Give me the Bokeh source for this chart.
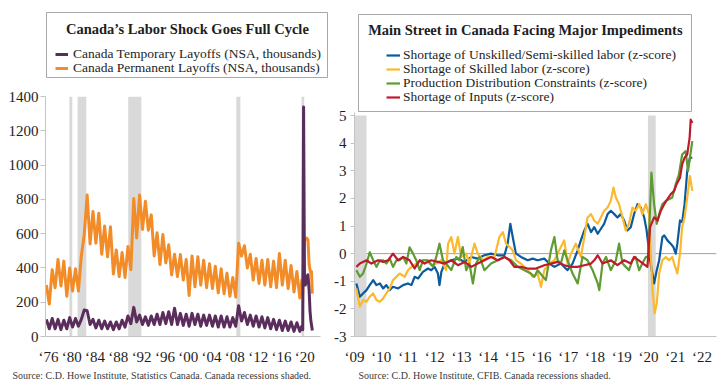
from bokeh.plotting import figure
from bokeh.models import Range1d, FixedTicker, Label, BoxAnnotation, Legend, LegendItem, Span, Title
from bokeh.layouts import row
from bokeh.embed import file_html
from bokeh.resources import INLINE

SERIF = "Liberation Serif"

# ---------------- Left chart data (NSA, thousands) ----------------
layoff_years = list(range(1976, 2020))
# seasonal winter peak / summer trough read per year
perm_peak = [300, 390, 450, 440, 400, 395, 470, 826, 730, 720, 645, 640, 505, 490, 525,
             805, 826, 790, 710, 605, 595, 535, 480, 478, 450, 470, 465, 445, 425, 410,
             395, 370, 345, 545, 530, 480, 455, 445, 450, 440, 485, 445, 415, 380]
perm_trough = [190, 285, 295, 235, 265, 265, 595, 540, 545, 480, 465, 365, 350, 345, 390,
               575, 625, 620, 470, 420, 430, 360, 350, 330, 240, 290, 300, 285, 280, 255,
               250, 235, 230, 470, 400, 330, 310, 300, 290, 285, 300, 280, 260, 225]
temp_peak = [100, 105, 100, 95, 110, 105, 100, 150, 100, 95, 90, 85, 85, 95, 120,
             170, 125, 115, 120, 130, 140, 145, 165, 135, 130, 135, 130, 125, 125, 120,
             120, 115, 110, 180, 140, 125, 120, 115, 110, 100, 95, 90, 85, 80]
temp_trough = [45, 45, 40, 45, 55, 60, 155, 70, 50, 45, 45, 40, 45, 55, 75,
               85, 70, 65, 70, 70, 75, 70, 70, 65, 60, 70, 60, 65, 60, 55,
               55, 55, 60, 90, 70, 60, 55, 50, 45, 40, 35, 35, 30, 30]
peak_offset, trough_offset = 0.15, 0.65
# pandemic period, read point by point
tail_t = [2020.0, 2020.15, 2020.3, 2020.45, 2020.6, 2020.8, 2021.05, 2021.25, 2021.4, 2021.55, 2021.65, 2021.8]
perm_tail = [330, 250, 450, 560, 565, 575, 565, 420, 390, 370, 380, 250]
temp_tail = [60, 40, 1340, 360, 300, 345, 360, 270, 150, 90, 70, 35]

left_recession_start = [1980.1, 1981.5, 1990.2, 2008.75, 2019.95]
left_recession_end = [1980.6, 1983.0, 1992.45, 2009.45, 2020.4]
left_x_ticks = [1976, 1980, 1984, 1988, 1992, 1996, 2000, 2004, 2008, 2012, 2016, 2020]
left_x_labels = ["\u201876", "\u201880", "\u201884", "\u201888", "\u201892", "\u201896",
                 "\u201800", "\u201804", "\u201808", "\u201812", "\u201816", "\u201820"]
left_y_ticks = [0, 200, 400, 600, 800, 1000, 1200, 1400]
left_y_labels = ["0", "200", "400", "600", "800", "1000", "1200", "1400"]

# ---------------- Right chart data (z-scores) ----------------
inputs_t = [2009.07, 2009.20, 2009.45, 2009.63, 2009.88, 2010.07, 2010.26, 2010.44, 2010.63, 2010.82,
            2011.06, 2011.25, 2011.44, 2011.62, 2011.87, 2012.12, 2012.37, 2012.62, 2012.87, 2013.12,
            2013.37, 2013.61, 2013.86, 2014.11, 2014.36, 2014.61, 2014.80, 2014.98, 2015.23, 2015.48,
            2015.79, 2016.10, 2016.35, 2016.60, 2016.85, 2017.10, 2017.35, 2017.60, 2017.85, 2017.97,
            2018.10, 2018.28, 2018.59, 2018.84, 2019.09, 2019.34, 2019.46, 2019.71, 2019.96, 2020.06,
            2020.21, 2020.34, 2020.46, 2020.59, 2020.71, 2020.83, 2020.96, 2021.05, 2021.18, 2021.26,
            2021.35, 2021.45, 2021.54, 2021.58, 2021.64]
inputs_v = [-0.48, -0.36, -0.24, -0.36, -0.24, -0.30, -0.24, 0.00, -0.24, -0.12,
            -0.24, -0.54, -0.24, -0.36, -0.24, -0.30, -0.36, -0.24, -0.42, -0.30,
            -0.48, -0.36, -0.24, -0.12, -0.24, -0.12, -0.24, -0.48, -0.48, -0.54,
            -0.54, -0.42, -0.36, -0.30, -0.42, -0.48, -0.48, -0.42, -0.36, -0.24,
            -0.06, -0.36, -0.24, -0.42, -0.24, -0.36, -0.12, -0.30, -0.48, 0.96,
            1.31, 1.20, 1.55, 1.79, 1.97, 2.15, 2.27, 2.51, 2.75, 3.23,
            3.47, 3.59, 4.20, 4.85, 4.73]

unskilled_t = [2009.07, 2009.20, 2009.32, 2009.45, 2009.57, 2009.70, 2009.82, 2009.95, 2010.07, 2010.19,
               2010.32, 2010.44, 2010.63, 2010.82, 2011.00, 2011.13, 2011.25, 2011.38, 2011.56, 2011.75,
               2011.87, 2012.00, 2012.12, 2012.18, 2012.25, 2012.37, 2012.62, 2012.87, 2013.12, 2013.37,
               2013.61, 2013.86, 2014.11, 2014.36, 2014.61, 2014.73, 2014.83, 2014.92, 2015.04, 2015.23,
               2015.48, 2015.67, 2015.85, 2016.10, 2016.29, 2016.48, 2016.72, 2016.97, 2017.16, 2017.35,
               2017.47, 2017.60, 2017.72, 2017.85, 2017.97, 2018.10, 2018.22, 2018.34, 2018.47, 2018.59,
               2018.72, 2018.84, 2018.96, 2019.09, 2019.21, 2019.34, 2019.46, 2019.59, 2019.71, 2019.84,
               2019.93, 2020.06, 2020.21, 2020.31, 2020.40, 2020.52, 2020.59, 2020.71, 2020.83, 2020.93,
               2021.02, 2021.08, 2021.18, 2021.26, 2021.35, 2021.45, 2021.55, 2021.64]
unskilled_v = [-1.08, -1.56, -1.44, -1.32, -1.14, -0.96, -1.14, -1.08, -1.26, -1.14,
               -1.32, -1.20, -1.26, -1.14, -1.08, -1.14, -0.84, -0.90, -0.66, -0.54,
               -0.60, -0.48, -0.72, -1.14, -0.66, -0.36, -0.24, -0.18, -0.30, -0.12,
               -0.18, -0.06, 0.00, -0.06, -0.06, 0.36, 1.08, 0.60, 0.00, -0.12,
               -0.24, -0.18, -0.24, -0.18, -0.36, -0.48, -0.36, -0.60, -0.36, 0.12,
               0.48, 0.84, 1.08, 0.78, 0.96, 0.72, 0.90, 1.08, 1.43, 1.55,
               1.43, 1.31, 1.43, 1.20, 0.84, 0.96, 1.43, 1.79, 1.67, 1.31,
               0.84, -0.24, -1.08, -0.60, -0.24, 0.60, 0.66, 0.48, 0.36, 0.24,
               0.00, 0.36, 1.20, 1.14, 1.79, 2.99, 3.47, 3.47]

skilled_t = [2009.07, 2009.20, 2009.32, 2009.45, 2009.57, 2009.70, 2009.82, 2009.95, 2010.07, 2010.19,
             2010.32, 2010.44, 2010.57, 2010.69, 2010.88, 2011.00, 2011.13, 2011.31, 2011.50, 2011.69,
             2011.87, 2012.06, 2012.25, 2012.43, 2012.50, 2012.62, 2012.74, 2012.87, 2012.99, 2013.18,
             2013.30, 2013.49, 2013.61, 2013.80, 2013.99, 2014.24, 2014.42, 2014.55, 2014.67, 2014.80,
             2014.92, 2015.04, 2015.23, 2015.48, 2015.67, 2015.85, 2015.98, 2016.10, 2016.29, 2016.48,
             2016.66, 2016.85, 2016.97, 2017.10, 2017.28, 2017.47, 2017.60, 2017.72, 2017.85, 2017.97,
             2018.10, 2018.22, 2018.34, 2018.47, 2018.59, 2018.69, 2018.78, 2018.90, 2019.03, 2019.15,
             2019.27, 2019.40, 2019.52, 2019.65, 2019.77, 2019.90, 2020.02, 2020.15, 2020.23, 2020.31,
             2020.40, 2020.52, 2020.65, 2020.77, 2020.89, 2020.96, 2021.08, 2021.18, 2021.26, 2021.35,
             2021.45, 2021.55, 2021.64]
skilled_v = [-1.26, -1.92, -1.68, -1.74, -1.56, -1.44, -1.68, -1.74, -1.62, -1.44,
             -1.26, -0.96, -0.84, -0.72, -0.84, -0.60, -0.48, -0.36, -0.24, -0.24,
             -0.42, -0.36, -0.24, -0.60, 0.36, 0.60, 0.00, 0.60, -0.12, 0.00,
             -0.36, 0.36, 0.00, -0.24, -0.12, -0.12, 0.60, 0.78, 0.36, 0.24,
             0.12, -0.24, -0.36, -0.60, -0.84, -0.72, -1.20, -0.60, -0.36, -0.24,
             0.12, 0.48, -0.36, 0.00, 0.36, -0.12, 0.60, 1.31, 1.43, 1.20,
             1.08, 1.31, 1.55, 1.67, 1.91, 2.39, 2.03, 1.79, 1.31, 0.84,
             1.08, 1.67, 1.55, 1.79, 1.43, 1.79, 1.43, -1.32, -2.16, -1.80,
             -0.72, -0.24, -0.12, -0.24, -0.12, -0.36, -0.72, 0.00, 0.96, 1.31,
             2.03, 2.81, 2.27]

distrib_t = [2009.07, 2009.20, 2009.32, 2009.45, 2009.57, 2009.70, 2009.82, 2009.95, 2010.07, 2010.19,
             2010.32, 2010.44, 2010.57, 2010.69, 2010.82, 2010.94, 2011.06, 2011.19, 2011.31, 2011.44,
             2011.56, 2011.75, 2011.94, 2012.06, 2012.18, 2012.31, 2012.43, 2012.62, 2012.81, 2012.93,
             2013.05, 2013.18, 2013.30, 2013.43, 2013.55, 2013.68, 2013.86, 2014.11, 2014.36, 2014.61,
             2014.86, 2015.11, 2015.36, 2015.60, 2015.73, 2015.85, 2016.16, 2016.35, 2016.48, 2016.60,
             2016.72, 2016.85, 2016.97, 2017.16, 2017.35, 2017.53, 2017.72, 2017.91, 2018.10, 2018.16,
             2018.28, 2018.41, 2018.59, 2018.78, 2018.90, 2019.03, 2019.15, 2019.27, 2019.40, 2019.52,
             2019.65, 2019.77, 2019.90, 2019.99, 2020.11, 2020.21, 2020.31, 2020.40, 2020.52, 2020.65,
             2020.77, 2020.89, 2021.02, 2021.14, 2021.26, 2021.39, 2021.48, 2021.55, 2021.64]
distrib_v = [-0.60, -0.84, -0.72, -0.36, 0.05, -0.24, -0.48, -0.24, -0.24, -0.36,
             -0.18, -0.48, -0.24, -0.24, -0.12, -0.36, 0.23, 0.00, -0.24, -0.60,
             -0.24, -0.24, -0.48, -0.12, 0.36, -0.24, -0.36, -0.60, -0.12, -0.24,
             0.24, -0.60, -0.36, -1.08, -0.36, -0.12, -0.60, -0.36, -0.24, -0.12,
             -0.24, -0.48, -0.60, -0.72, -0.84, -0.60, -0.96, 0.12, 0.60, -0.24,
             -0.36, 0.12, -0.24, -0.72, -1.08, -0.12, -0.24, -0.60, -1.08, -1.32,
             -0.36, -0.12, -0.60, -0.24, 0.36, -0.36, -0.48, -0.60, -0.24, -0.12,
             -0.60, -0.36, -0.12, -0.12, 2.93, 1.79, 1.08, 1.43, 1.79, 1.91,
             1.97, 2.03, 2.51, 2.87, 3.59, 3.71, 2.99, 3.47, 4.07]

right_recession_start = [2009.0, 2019.98]
right_recession_end = [2009.45, 2020.27]
right_x_ticks = list(range(2009, 2023))
right_x_labels = ["\u201809", "\u201810", "\u201811", "\u201812", "\u201813", "\u201814", "\u201815",
                  "\u201816", "\u201817", "\u201818", "\u201819", "\u201820", "\u201821", "\u201822"]
right_y_ticks = [-3, -2, -1, 0, 1, 2, 3, 4, 5]
right_y_labels = ["-3", "-2", "-1", "0", "1", "2", "3", "4", "5"]

# ---------------- styling ----------------
ORANGE = "#F28C28"
PURPLE = "#5A2D5C"
BLUE = "#0B5A9E"
YELLOW = "#FBB92E"
GREEN = "#5E9B32"
RED = "#BE1A2D"
SHADE = "#D9D9D9"
AXIS = "#C4C4C4"
BOX = "#A8A8A8"
TXT = "#1E1E1E"
SRC = "#3A3A3A"


def style_axes(p, ytick_out, ystandoff):
    for ax in p.xaxis:
        ax.axis_line_color = AXIS
        ax.major_tick_out = 0
        ax.major_tick_in = 0
        ax.minor_tick_line_color = None
        ax.major_label_standoff = 12
    for ax in p.yaxis:
        ax.axis_line_color = AXIS
        ax.major_tick_line_color = AXIS
        ax.major_tick_out = ytick_out
        ax.major_tick_in = 0
        ax.minor_tick_line_color = None
        ax.major_label_standoff = ystandoff
    for ax in list(p.xaxis) + list(p.yaxis):
        ax.major_label_text_font = SERIF
        ax.major_label_text_font_size = "15px"
        ax.major_label_text_color = TXT
    p.grid.visible = False
    p.outline_line_color = None


def zigzag(years, peaks, troughs):
    t, v = [], []
    for y, pk, tr in zip(years, peaks, troughs):
        t += [y + peak_offset, y + trough_offset]
        v += [pk, tr]
    return t, v


def header(p, box, title_xy, title, items, legend_x, legend_bottoms, glyph_w, standoff):
    l, r, b, t = box
    p.add_layout(BoxAnnotation(left=l, right=r, bottom=b, top=t,
                               left_units="screen", right_units="screen",
                               bottom_units="screen", top_units="screen",
                               fill_color=None, line_color=BOX, line_alpha=1.0, line_width=1))
    p.add_layout(Label(x=title_xy[0], y=title_xy[1], x_units="screen", y_units="screen",
                       text=title, text_align="center", text_baseline="middle", text_font=SERIF,
                       text_font_style="bold", text_font_size="14.5px", text_color=TXT))
    # one single-item legend per entry so the line pitch matches the reference
    for item, yb in zip(items, legend_bottoms):
        p.add_layout(Legend(items=[item], location=(legend_x, yb), padding=0, margin=0,
                            glyph_width=glyph_w, glyph_height=14, label_height=14,
                            label_standoff=standoff, label_text_font=SERIF,
                            label_text_font_size="13.5px", label_text_color=TXT,
                            border_line_color=None, background_fill_alpha=0))


def source(p, text, offset):
    p.add_layout(Title(text=text, align="left", offset=offset, standoff=0, text_font=SERIF,
                       text_font_size="10px", text_font_style="normal", text_color=SRC), "below")


# ---------------- left figure ----------------
# the frame spans the whole figure height so the header box lies inside it
pL = figure(width=331, height=380, x_range=Range1d(1976.0, 2024.575), y_range=Range1d(0, 1961.2),
            output_backend="svg", toolbar_location=None,
            min_border_left=45, min_border_right=3, min_border_top=0, min_border_bottom=41)
style_axes(pL, 5, 2)
pL.xaxis.bounds = (1976.0, 2023.2)
pL.yaxis.bounds = (0, 1400)
pL.xaxis.ticker = FixedTicker(ticks=[t + 0.5 for t in left_x_ticks])
pL.xaxis.major_label_overrides = {t + 0.5: lab for t, lab in zip(left_x_ticks, left_x_labels)}
pL.yaxis.ticker = FixedTicker(ticks=left_y_ticks)
pL.yaxis.major_label_overrides = dict(zip(left_y_ticks, left_y_labels))

pL.quad(left=left_recession_start, right=left_recession_end, bottom=0, top=1400,
        fill_color=SHADE, line_color=None)

perm_t, perm_v = zigzag(layoff_years, perm_peak, perm_trough)
temp_t, temp_v = zigzag(layoff_years, temp_peak, temp_trough)
r_perm = pL.line(perm_t + tail_t, perm_v + perm_tail, line_color=ORANGE, line_width=3, line_join="round")
r_temp = pL.line(temp_t + tail_t, temp_v + temp_tail, line_color=PURPLE, line_width=3, line_join="round")

header(pL, (1, 282, 259, 324), (142, 308), "Canada\u2019s Labor Shock Goes Full Cycle",
       [LegendItem(label="Canada Temporary Layoffs (NSA, thousands)", renderers=[r_temp]),
        LegendItem(label="Canada Permanent Layoffs (NSA, thousands)", renderers=[r_perm])],
       10, [274, 260], 13, 5)
source(pL, "Source: C.D. Howe Institute, Statistics Canada. Canada recessions shaded.", -33)

# ---------------- right figure ----------------
pR = figure(width=389, height=380, x_range=Range1d(2009.0, 2022.545), y_range=Range1d(-3, 9.163),
            output_backend="svg", toolbar_location=None,
            min_border_left=22, min_border_right=4, min_border_top=0, min_border_bottom=42)
style_axes(pR, 4, 4)
pR.yaxis.bounds = (-3, 5.1)
pR.xaxis.ticker = FixedTicker(ticks=right_x_ticks)
pR.xaxis.major_label_overrides = dict(zip(right_x_ticks, right_x_labels))
pR.yaxis.ticker = FixedTicker(ticks=right_y_ticks)
pR.yaxis.major_label_overrides = dict(zip(right_y_ticks, right_y_labels))

pR.quad(left=right_recession_start, right=right_recession_end, bottom=-3, top=5,
        fill_color=SHADE, line_color=None)
zero = Span(location=0, dimension="width", line_color="#A0A0A0", line_width=1)
zero.level = "underlay"
pR.add_layout(zero)

r_uns = pR.line(unskilled_t, unskilled_v, line_color=BLUE, line_width=2.2, line_join="round")
r_skl = pR.line(skilled_t, skilled_v, line_color=YELLOW, line_width=2.2, line_join="round")
r_dst = pR.line(distrib_t, distrib_v, line_color=GREEN, line_width=2.2, line_join="round")
r_inp = pR.line(inputs_t, inputs_v, line_color=RED, line_width=2.2, line_join="round")

header(pR, (4, 337, 225, 322), (171, 307), "Main Street in Canada Facing Major Impediments",
       [LegendItem(label="Shortage of Unskilled/Semi-skilled labor (z-score)", renderers=[r_uns]),
        LegendItem(label="Shortage of Skilled labor (z-score)", renderers=[r_skl]),
        LegendItem(label="Production Distribution Constraints (z-score)", renderers=[r_dst]),
        LegendItem(label="Shortage of Inputs (z-score)", renderers=[r_inp])],
       32, [273, 259, 245, 231], 14, 3)
source(pR, "Source: C.D. Howe Institute, CFIB. Canada recessions shaded.", 4)

layout = row(pL, pR)
open("out.html", "w").write(file_html(layout, INLINE))
